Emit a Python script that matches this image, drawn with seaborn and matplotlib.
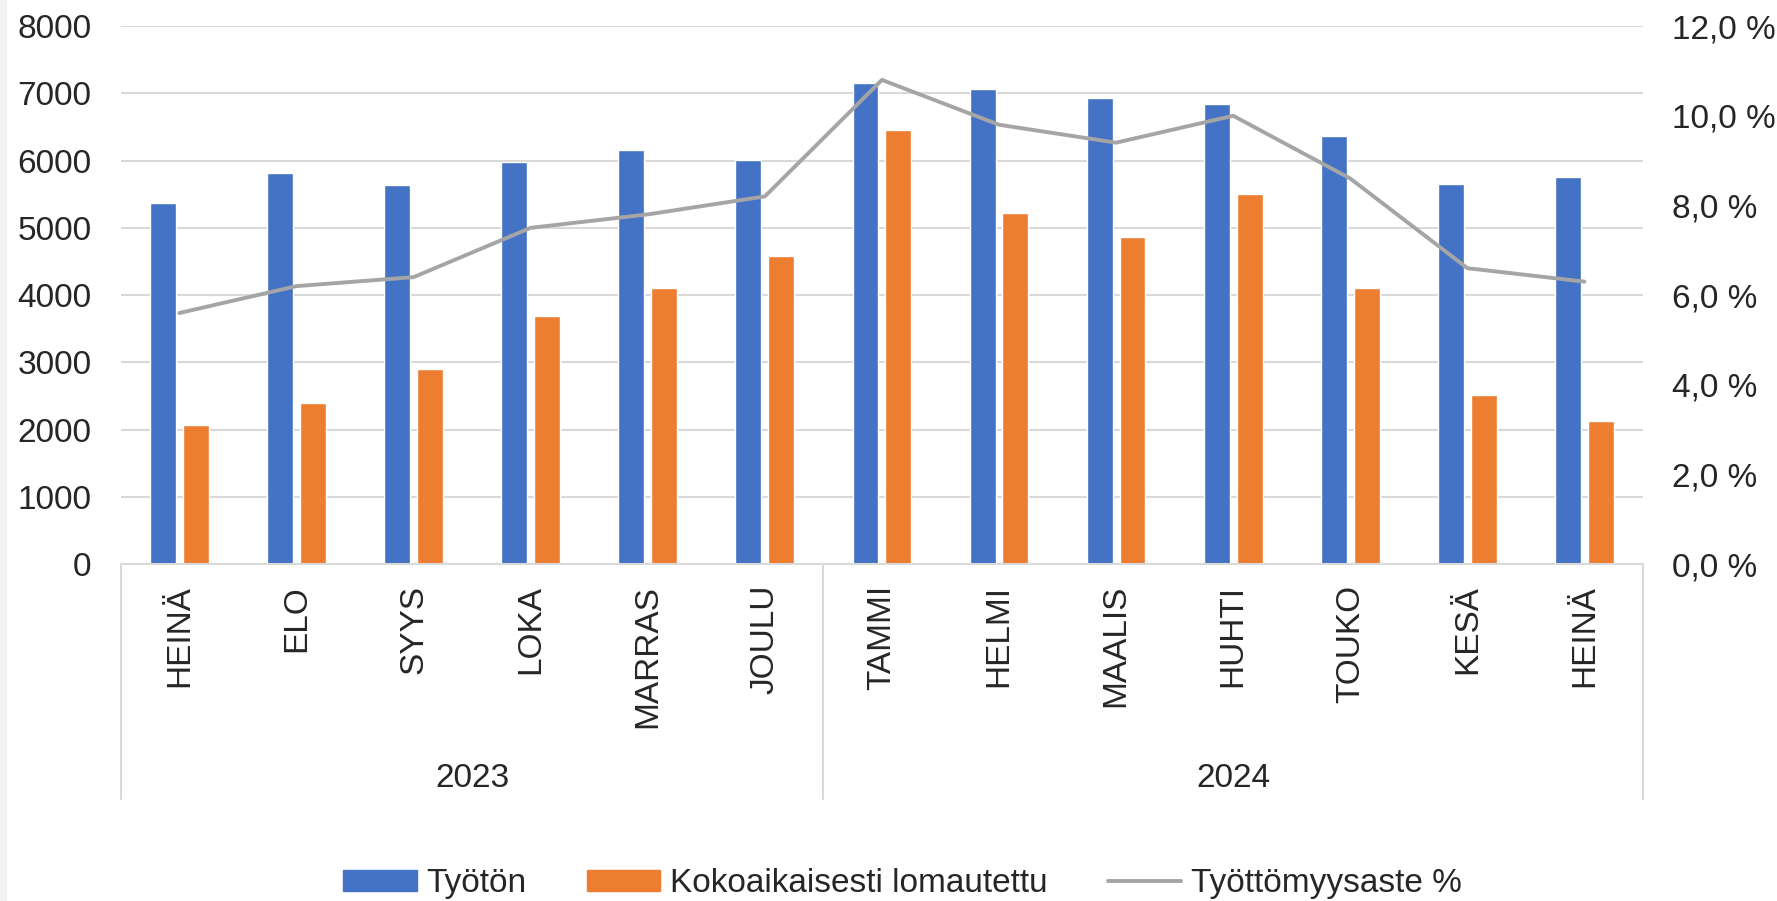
import numpy as np
import pandas as pd
import matplotlib
matplotlib.use("Agg")
import matplotlib.pyplot as plt
import matplotlib.transforms as mtransforms
from matplotlib.ticker import FuncFormatter, MultipleLocator
from matplotlib.patches import Patch, Rectangle
from matplotlib.lines import Line2D
import seaborn as sns

# data
years = ["2023"] * 6 + ["2024"] * 7
months = ["HEINÄ", "ELO", "SYYS", "LOKA", "MARRAS", "JOULU",
          "TAMMI", "HELMI", "MAALIS", "HUHTI", "TOUKO", "KESÄ", "HEINÄ"]
tyoton = [5370, 5815, 5630, 5980, 6165, 6010, 7155, 7060, 6935, 6840, 6360, 5655, 5755]
lomautettu = [2065, 2390, 2900, 3690, 4100, 4585, 6450, 5215, 4860, 5500, 4100, 2510, 2130]
tyottomyysaste = [5.6, 6.2, 6.4, 7.5, 7.8, 8.2, 10.8, 9.8, 9.4, 10.0, 8.6, 6.6, 6.3]

series_names = ["Työtön", "Kokoaikaisesti lomautettu", "Työttömyysaste %"]
BLUE, ORANGE, GRAY = "#4472C4", "#ED7D31", "#A5A5A5"
GRID = "#d9d9d9"
TEXT = "#262626"
FS = 24

sns.set_theme(style="white")
plt.rcParams["font.family"] = ["Liberation Sans", "DejaVu Sans"]
plt.rcParams["text.color"] = TEXT

keys = [f"{y} {m}" for y, m in zip(years, months)]
df = pd.DataFrame({
    "kk": keys * 2,
    "arvo": tyoton + lomautettu,
    "sarja": [series_names[0]] * len(keys) + [series_names[1]] * len(keys),
})

fig = plt.figure(figsize=(17.77, 9.01), dpi=100)
# thin grey strip at the left edge, as in the screenshot
fig.patches.append(Rectangle((0, 0), 6 / 1777, 1, transform=fig.transFigure,
                             color="#f2f2f2", zorder=-1))
ax = fig.add_axes([0.068, 0.374, 0.8566, 0.597])

sns.barplot(data=df, x="kk", y="arvo", hue="sarja", order=keys,
            hue_order=series_names[:2], palette=[BLUE, ORANGE],
            width=0.56, gap=0.21, saturation=1, legend=False, ax=ax)

ax.set_ylim(0, 8000)
ax.set_xlim(-0.5, len(keys) - 0.5)
ax.yaxis.set_major_locator(MultipleLocator(1000))
ax.grid(axis="y", color=GRID, lw=1.5)
ax.set_axisbelow(True)
ax.set_xlabel("")
ax.set_ylabel("")
for side in ["top", "left", "right"]:
    ax.spines[side].set_visible(False)
ax.spines["bottom"].set_color(GRID)
ax.spines["bottom"].set_linewidth(1.5)

ax.set_xticks(range(len(months)))
ax.set_xticklabels(months, rotation=90, va="top", ha="center")
ax.tick_params(axis="x", length=0, pad=15, labelsize=FS, labelcolor=TEXT)
ax.tick_params(axis="y", length=0, pad=21, labelsize=FS, labelcolor=TEXT)

# twin axis for the unemployment rate
ax2 = ax.twinx()
sns.lineplot(x=np.arange(len(tyottomyysaste)), y=tyottomyysaste,
             color=GRAY, lw=2.8, ax=ax2)
ax2.set_ylim(0, 12)
ax2.yaxis.set_major_locator(MultipleLocator(2))
ax2.yaxis.set_major_formatter(FuncFormatter(lambda v, _: f"{v:.1f} %".replace(".", ",")))
ax2.tick_params(axis="y", length=0, pad=21, labelsize=FS, labelcolor=TEXT)
ax2.grid(False)
for side in ax2.spines:
    ax2.spines[side].set_visible(False)

# year grouping below the month labels
trans = mtransforms.blended_transform_factory(ax.transData, ax.transAxes)
year_list = list(dict.fromkeys(years))
bounds = [-0.5]
for yr in year_list:
    idx = [i for i, y in enumerate(years) if y == yr]
    bounds.append(idx[-1] + 0.5)
    ax.text(np.mean(idx), -0.398, yr, transform=trans, ha="center", va="center",
            fontsize=FS, color=TEXT)
for b in bounds:
    ax.plot([b, b], [0, -0.437], transform=trans, color=GRID, lw=1.5, clip_on=False)

handles = [Patch(color=BLUE), Patch(color=ORANGE), Line2D([], [], color=GRAY, lw=2.8)]
fig.legend(handles, series_names, loc="center", bbox_to_anchor=(0.508, 0.019),
           ncol=3, frameon=False, fontsize=FS, handlelength=2.2, handleheight=0.6,
           handletextpad=0.3, columnspacing=1.8)

fig.savefig("out.png", dpi=100)
